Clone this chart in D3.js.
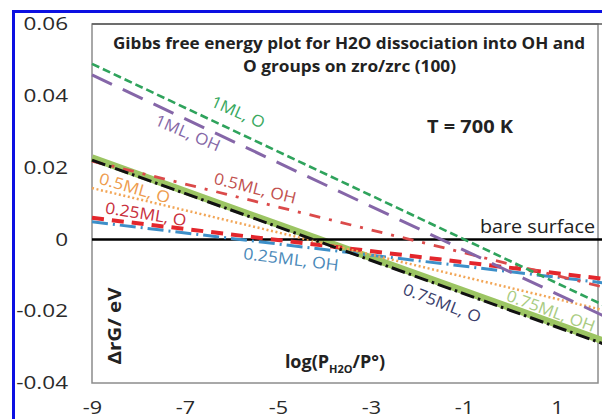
<!DOCTYPE html>
<html>
<head>
<meta charset="utf-8">
<script src="https://cdn.jsdelivr.net/npm/d3@7"></script>
<style>
  html, body { margin: 0; padding: 0; background: #fff; }
  svg { display: block; }
  text { font-family: "Open Sans", "Noto Sans", sans-serif; }
</style>
</head>
<body>
<svg id="chart" width="602" height="419"></svg>
<script>
// log10(P_H2O / P°) at the two ends of every line
const logP = [-9, 2];

// reaction free energy ΔrG (eV) at those two pressures
const bareSurface = [0, 0];
const ml1_O     = [0.0489, -0.0183];
const ml1_OH    = [0.0458, -0.0213];
const ml075_O   = [0.0221, -0.0291];
const ml075_OH  = [0.0227, -0.0283];
const ml05_OH   = [0.0218, -0.0133];
const ml05_O    = [0.0143, -0.0197];
const ml025_O   = [0.0060, -0.0110];
const ml025_OH  = [0.0049, -0.0121];

// axis ticks
const xTicks = [-9, -7, -5, -3, -1, 1];
const yTicks = [-0.04, -0.02, 0, 0.02, 0.04, 0.06];

// line labels: text and the (logP, ΔrG) point each one sits on
const labelTexts  = ["1ML, O", "1ML, OH", "0.5ML, OH", "0.5ML, O", "0.25ML, O", "0.25ML, OH", "0.75ML, O", "0.75ML, OH"];
const labelLogP   = [-5.86, -6.94, -5.49, -8.08, -7.84, -4.72, -1.47, 0.87];
const labelDG     = [0.0355, 0.0297, 0.0143, 0.0143, 0.0071, -0.0055, -0.0177, -0.0199];

// ---------------------------------------------------------------
const svg = d3.select("#chart");

const x = d3.scaleLinear().domain([-9, 2]).range([92, 603.5]);
const y = d3.scaleLinear().domain([-0.04, 0.06]).range([383, 24]);

// helper: widen a text element to a given advance width
function fitWidth(sel, w) {
  sel.attr("textLength", w).attr("lengthAdjust", "spacingAndGlyphs");
}
function stretch(sel, k) {
  sel.each(function () {
    const len = this.getComputedTextLength();
    d3.select(this).attr("textLength", len * k).attr("lengthAdjust", "spacingAndGlyphs");
  });
}

// outer blue frame
svg.append("path")
  .attr("d", "M13.5,425 L13.5,11.5 L610,11.5")
  .attr("fill", "none")
  .attr("stroke", "#0c10e2")
  .attr("stroke-width", 3);

// inner plot box
const boxRight = 598;
svg.append("rect")
  .attr("x", x(-9)).attr("y", y(0.06))
  .attr("width", boxRight - x(-9)).attr("height", y(-0.04) - y(0.06))
  .attr("fill", "none")
  .attr("stroke", "#8c8c8c")
  .attr("stroke-width", 1.5);
svg.append("line")
  .attr("x1", x(-9)).attr("x2", 602)
  .attr("y1", y(0.06)).attr("y2", y(0.06))
  .attr("stroke", "#5a5a5a").attr("stroke-width", 1.5);

// axes (labels only)
const yAxis = svg.append("g")
  .attr("transform", `translate(${x(-9)},0)`)
  .call(d3.axisLeft(y).tickValues(yTicks).tickSize(0).tickPadding(24)
    .tickFormat(d => d === 0 ? "0" : d3.format(".2f")(d).replace("\u2212", "-")));
const xAxis = svg.append("g")
  .attr("transform", `translate(0,${y(-0.04)})`)
  .call(d3.axisBottom(x).tickValues(xTicks).tickSize(0).tickPadding(18)
    .tickFormat(d => (d < 0 ? "-" : "") + Math.abs(d)));
[yAxis, xAxis].forEach(g => {
  g.select(".domain").remove();
  g.selectAll("text")
    .attr("font-family", "Open Sans, sans-serif")
    .attr("font-size", 18)
    .attr("fill", "#2a2a2a");
});
stretch(yAxis.selectAll("text"), 1.25);
stretch(xAxis.selectAll("text"), 1.2);

// series
const series = [
  { name: "0.75ML, OH", values: ml075_OH, color: "#9cc563", width: 7,   dash: null },
  { name: "bare surface", values: bareSurface, color: "#000000", width: 2.5, dash: null },
  { name: "0.25ML, OH", values: ml025_OH, color: "#3d8fc8", width: 3,   dash: "16,5,2,5" },
  { name: "0.25ML, O",  values: ml025_O,  color: "#e3262c", width: 4,   dash: "12,8" },
  { name: "0.5ML, O",   values: ml05_O,   color: "#f2a657", width: 2.5, dash: "2,2.6" },
  { name: "0.5ML, OH",  values: ml05_OH,  color: "#db4a4a", width: 2.8, dash: "11,9,3,9" },
  { name: "0.75ML, O",  values: ml075_O,  color: "#111111", width: 3,   dash: "14,4,2.5,4" },
  { name: "1ML, OH",    values: ml1_OH,   color: "#8566a8", width: 3,   dash: "22,12" },
  { name: "1ML, O",     values: ml1_O,    color: "#2fa35c", width: 2.6, dash: "8,4" }
];

const line = d3.line().x(d => x(d[0])).y(d => y(d[1]));

svg.append("g").selectAll("path")
  .data(series)
  .join("path")
  .attr("d", s => line(d3.zip(logP, s.values)))
  .attr("fill", "none")
  .attr("stroke", s => s.color)
  .attr("stroke-width", s => s.width)
  .attr("stroke-dasharray", s => s.dash);

// line labels
const labelStyle = {
  "1ML, O":     { color: "#3aa95f", angle: 24, width: 57 },
  "1ML, OH":    { color: "#8467a6", angle: 23, width: 69 },
  "0.5ML, OH":  { color: "#c2514f", angle: 14, width: 84 },
  "0.5ML, O":   { color: "#ee9c4e", angle: 16, width: 73 },
  "0.25ML, O":  { color: "#c9303d", angle: 9,  width: 82 },
  "0.25ML, OH": { color: "#4a89b9", angle: 7,  width: 96 },
  "0.75ML, O":  { color: "#3a3e6c", angle: 21, width: 82 },
  "0.75ML, OH": { color: "#a9cc82", angle: 20, width: 93 }
};

const labels = svg.append("g").selectAll("text")
  .data(labelTexts.map((t, i) => ({ text: t, lx: labelLogP[i], ly: labelDG[i] })))
  .join("text")
  .attr("transform", d => `translate(${x(d.lx)},${y(d.ly)}) rotate(${labelStyle[d.text].angle})`)
  .attr("text-anchor", "middle")
  .attr("dy", "0.36em")
  .attr("font-size", 16)
  .attr("fill", d => labelStyle[d.text].color)
  .text(d => d.text)
  .each(function (d) { fitWidth(d3.select(this), labelStyle[d.text].width); });

// title
const title = svg.append("g").attr("font-weight", "bold").attr("font-size", 16).attr("fill", "#222");
fitWidth(title.append("text").attr("x", 349).attr("y", 48.5).attr("text-anchor", "middle")
  .text("Gibbs free energy plot for H2O dissociation into OH and"), 472);
fitWidth(title.append("text").attr("x", 349.5).attr("y", 72).attr("text-anchor", "middle")
  .text("O groups on zro/zrc (100)"), 213);

// temperature note
fitWidth(svg.append("text").attr("x", 470).attr("y", 133).attr("text-anchor", "middle")
  .attr("font-weight", "bold").attr("font-size", 18).attr("fill", "#222")
  .text("T = 700 K"), 86);

// reference line label
fitWidth(svg.append("text").attr("x", 595).attr("y", 232.5).attr("text-anchor", "end")
  .attr("font-size", 18).attr("fill", "#222")
  .text("bare surface"), 115);

// axis titles
fitWidth(svg.append("text")
  .attr("transform", "translate(121,326) rotate(-90)")
  .attr("text-anchor", "middle")
  .attr("font-weight", "bold").attr("font-size", 18).attr("fill", "#222")
  .text("ΔrG/ eV"), 77);

const xt = svg.append("text")
  .attr("x", 335).attr("y", 368).attr("text-anchor", "middle")
  .attr("font-weight", "bold").attr("font-size", 18).attr("fill", "#222");
xt.append("tspan").text("log(P");
xt.append("tspan").attr("font-size", 11).attr("dy", 5).text("H2O");
xt.append("tspan").attr("dy", -5).text("/P°)");
</script>
</body>
</html>
